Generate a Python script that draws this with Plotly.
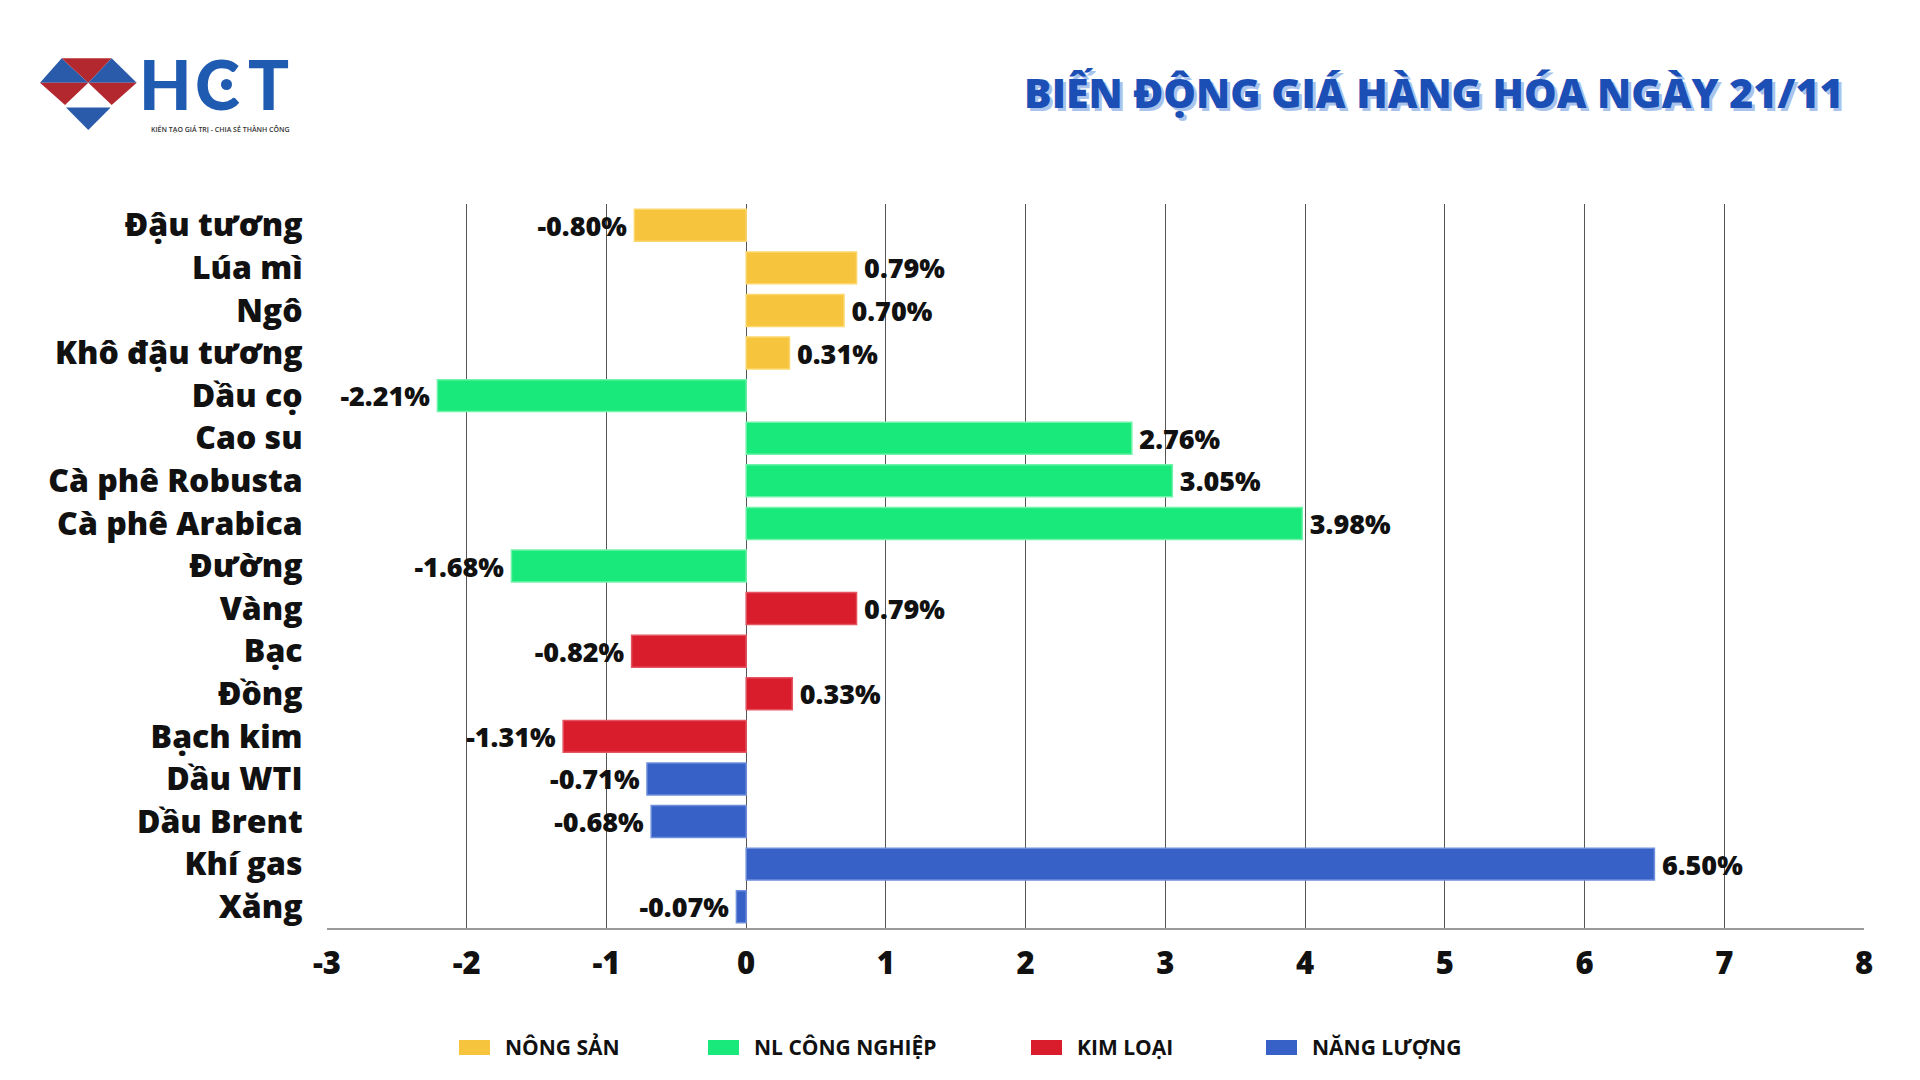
import plotly.graph_objects as go

# ---------------- data ----------------
categories = ["Đậu tương", "Lúa mì", "Ngô", "Khô đậu tương", "Dầu cọ", "Cao su",
              "Cà phê Robusta", "Cà phê Arabica", "Đường", "Vàng", "Bạc", "Đồng",
              "Bạch kim", "Dầu WTI", "Dầu Brent", "Khí gas", "Xăng"]

nong_san_cats = ["Đậu tương", "Lúa mì", "Ngô", "Khô đậu tương"]
nong_san_vals = [-0.80, 0.79, 0.70, 0.31]

cong_nghiep_cats = ["Dầu cọ", "Cao su", "Cà phê Robusta", "Cà phê Arabica", "Đường"]
cong_nghiep_vals = [-2.21, 2.76, 3.05, 3.98, -1.68]

kim_loai_cats = ["Vàng", "Bạc", "Đồng", "Bạch kim"]
kim_loai_vals = [0.79, -0.82, 0.33, -1.31]

nang_luong_cats = ["Dầu WTI", "Dầu Brent", "Khí gas", "Xăng"]
nang_luong_vals = [-0.71, -0.68, 6.50, -0.07]

group_names = ["NÔNG SẢN", "NL CÔNG NGHIỆP", "KIM LOẠI", "NĂNG LƯỢNG"]
x_ticks = [-3, -2, -1, 0, 1, 2, 3, 4, 5, 6, 7, 8]

title_text = "BIẾN ĐỘNG GIÁ HÀNG HÓA NGÀY 21/11"

# ---------------- style ----------------
colors = ["#F7C43E", "#19E87A", "#D91D2D", "#3761C6"]
edge_colors = ["#FBD76E", "#6FF3A9", "#E45561", "#6E8EDB"]
FONT = "Open Sans"

OFF = 8  # page body margin
W, H = 1920, 1080
# target plot area in page pixels: x 327..1864, y 204..928
L, R = 327 - OFF, W - (1864 - OFF)
T, B = 204 - OFF, H - (928 - OFF)
PW, PH = W - L - R, H - T - B


def px(x):  # page pixel -> paper
    return (x - OFF - L) / PW


def py(y):
    return (H - B - (y - OFF)) / PH


def label(v):
    s = f"{v:.2f}%"
    return s + "\u2009" if v < 0 else "\u2009" + s


fig = go.Figure()
series = [(nong_san_cats, nong_san_vals), (cong_nghiep_cats, cong_nghiep_vals),
          (kim_loai_cats, kim_loai_vals), (nang_luong_cats, nang_luong_vals)]
for i, (cats, vals) in enumerate(series):
    fig.add_trace(go.Bar(
        y=cats, x=vals, orientation="h", name=group_names[i],
        marker=dict(color=colors[i], line=dict(color=edge_colors[i], width=1.5)),
        width=0.75,
        text=[label(v) for v in vals], textposition="outside",
        constraintext="none",
        textfont=dict(family=FONT, size=27, color="#111111", weight=800),
        cliponaxis=False, showlegend=False,
    ))

fig.update_layout(
    width=W, height=H, barmode="overlay",
    paper_bgcolor="white", plot_bgcolor="white",
    margin=dict(l=L, r=R, t=T, b=B, autoexpand=False),
    font=dict(family=FONT, color="#111111"),
)
fig.update_xaxes(
    range=[-3, 8], tickvals=x_ticks, ticktext=[str(v) for v in x_ticks],
    showgrid=True, gridcolor="#555555", gridwidth=1,
    zeroline=True, zerolinecolor="#555555", zerolinewidth=1,
    showline=True, linecolor="#9a9a9a", linewidth=2,
    ticks="outside", ticklen=7, tickcolor="rgba(0,0,0,0)",
    tickfont=dict(family=FONT, size=31, color="#111111", weight=800),
)
fig.update_yaxes(
    type="category", categoryorder="array", categoryarray=categories,
    range=[16.5, -0.5], showgrid=False, zeroline=False, showline=False,
    ticks="outside", ticklen=17, tickcolor="rgba(0,0,0,0)",
    tickfont=dict(family=FONT, size=32, color="#111111", weight=800),
)

shapes = []
annotations = []

# ---------------- title with shadow ----------------
for dx, dy, col in [(3, 3, "#A9C3EC"), (0, 0, "#1B4FB6")]:
    annotations.append(dict(
        x=px(1846 + dx), y=py(92 + dy), xref="paper", yref="paper",
        xanchor="right", yanchor="middle", showarrow=False, text=title_text,
        font=dict(family=FONT, size=41, color=col, weight=800),
    ))

# ---------------- legend (manual) ----------------
legend_sq_x = [459, 708, 1031, 1266]
for i, name in enumerate(group_names):
    x0 = legend_sq_x[i]
    shapes.append(dict(type="rect", xref="paper", yref="paper",
                       x0=px(x0), x1=px(x0 + 31), y0=py(1040), y1=py(1055),
                       fillcolor=colors[i], line=dict(width=0)))
    annotations.append(dict(
        x=px(x0 + 44), y=py(1047), xref="paper", yref="paper",
        xanchor="left", yanchor="middle", showarrow=False, text=name,
        font=dict(family=FONT, size=21, color="#111111", weight=700),
    ))

# ---------------- logo ----------------
BLUE = "#2A5BAA"
RED = "#B3282E"
A = (61.7, 58.3); Bp = (111.7, 58.3); Lp = (40, 82.7); Rp = (136.7, 82.7); M = (88.3, 82.7)
P1 = (65, 105); P2 = (111.7, 105)
Q1 = (66, 107.5); Q2 = (110.7, 107.5); TIP = (88.3, 130)


def path(pts):
    return "M " + " L ".join(f"{px(x):.5f},{py(y):.5f}" for x, y in pts) + " Z"


for pts, col in [([A, Lp, M], BLUE), ([A, Bp, M], RED), ([Bp, M, Rp], BLUE),
                 ([Lp, M, P1], RED), ([M, Rp, P2], RED), ([Q1, Q2, TIP], BLUE)]:
    shapes.append(dict(type="path", xref="paper", yref="paper", path=path(pts),
                       fillcolor=col, line=dict(width=0)))

LOGO_BLUE = "#1F5BB0"
for ch, cx in [("H", 165), ("C", 217), ("T", 268)]:
    annotations.append(dict(
        x=px(cx), y=py(84), xref="paper", yref="paper", xanchor="center",
        yanchor="middle", showarrow=False, text=ch,
        font=dict(family="Lato", size=68, color=LOGO_BLUE, weight=900),
    ))
shapes.append(dict(type="circle", xref="paper", yref="paper",
                   x0=px(221), x1=px(232), y0=py(79), y1=py(90),
                   fillcolor=LOGO_BLUE, line=dict(width=0)))
annotations.append(dict(
    x=px(220), y=py(129), xref="paper", yref="paper", xanchor="center",
    yanchor="middle", showarrow=False, text="KIẾN TẠO GIÁ TRỊ - CHIA SẺ THÀNH CÔNG",
    font=dict(family=FONT, size=7, color="#333333", weight=600),
))

fig.update_layout(shapes=shapes, annotations=annotations)
fig.write_html("out.html")
